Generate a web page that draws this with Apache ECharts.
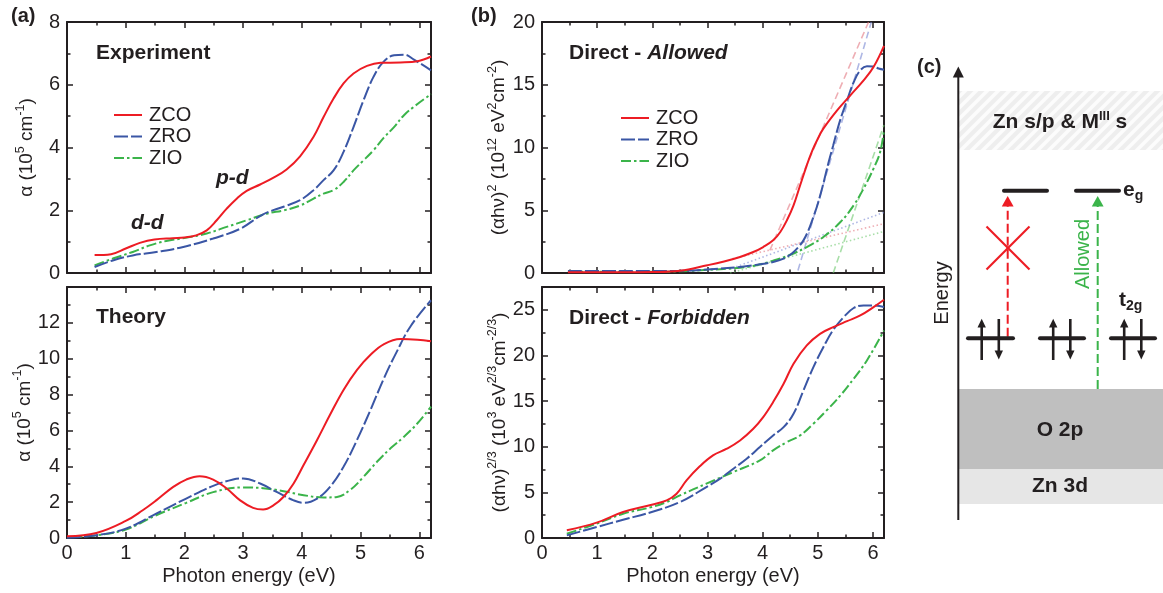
<!DOCTYPE html>
<html>
<head>
<meta charset="utf-8">
<script src="https://cdn.jsdelivr.net/npm/echarts@6/dist/echarts.min.js"></script>
<style>html,body{margin:0;padding:0;background:#fff}#c{width:1163px;height:593px}</style>
</head>
<body>
<div id="c"></div>
<script>
// ---------------- data ----------------
const seriesNames = ['ZCO', 'ZRO', 'ZIO'];

// (a) Experiment: [photon energy eV, alpha 1e5 cm^-1]
const expZCO = [[0.47,0.57],[0.75,0.6],[1.0,0.78],[1.24,0.96],[1.49,1.07],[1.8,1.11],[2.0,1.13],[2.2,1.2],[2.38,1.36],[2.55,1.68],[2.72,2.05],[2.89,2.37],[3.06,2.62],[3.29,2.82],[3.51,3.03],[3.74,3.3],[3.97,3.72],[4.2,4.34],[4.37,4.97],[4.54,5.56],[4.71,6.04],[4.88,6.36],[5.11,6.6],[5.34,6.7],[5.68,6.71],[5.97,6.75],[6.2,6.9]];
const expZRO = [[0.47,0.19],[0.78,0.4],[1.12,0.56],[1.52,0.67],[1.98,0.83],[2.49,1.1],[2.95,1.41],[3.34,1.87],[3.7,2.12],[3.97,2.32],[4.2,2.64],[4.37,2.96],[4.54,3.27],[4.71,3.86],[4.88,4.65],[5.05,5.5],[5.22,6.25],[5.39,6.73],[5.57,6.94],[5.74,6.96],[5.91,6.8],[6.2,6.46]];
const expZIO = [[0.47,0.24],[0.78,0.46],[1.12,0.67],[1.41,0.88],[1.69,1.02],[2.02,1.12],[2.38,1.26],[2.72,1.47],[3.06,1.68],[3.4,1.89],[3.7,2.0],[3.97,2.15],[4.2,2.37],[4.37,2.53],[4.54,2.64],[4.71,2.9],[4.88,3.27],[5.05,3.59],[5.22,3.91],[5.39,4.3],[5.57,4.65],[5.74,5.03],[5.91,5.3],[6.2,5.7]];

// (a) Theory
const thZCO = [[0,0.1],[0.5,0.28],[1.0,0.95],[1.29,1.55],[1.52,2.1],[1.81,2.85],[2.03,3.26],[2.26,3.45],[2.49,3.26],[2.72,2.76],[2.95,2.1],[3.17,1.68],[3.34,1.59],[3.52,1.83],[3.69,2.3],[3.86,3.04],[4.03,4.07],[4.26,5.47],[4.48,6.87],[4.71,8.26],[4.94,9.38],[5.17,10.22],[5.4,10.82],[5.68,11.1],[5.97,11.06],[6.2,10.97]];
const thZRO = [[0,0.02],[0.5,0.15],[1.0,0.52],[1.52,1.36],[2.03,2.2],[2.49,2.91],[2.83,3.26],[3.0,3.32],[3.29,3.04],[3.57,2.57],[3.86,2.1],[4.03,1.96],[4.26,2.2],[4.48,2.85],[4.71,3.97],[4.94,5.47],[5.17,7.15],[5.4,8.92],[5.62,10.41],[5.85,11.8],[6.2,13.26]];
const thZIO = [[0,0.05],[0.5,0.15],[1.0,0.47],[1.52,1.27],[2.03,1.96],[2.49,2.56],[3.0,2.82],[3.34,2.78],[3.69,2.61],[4.03,2.39],[4.37,2.26],[4.6,2.29],[4.83,2.7],[5.05,3.41],[5.28,4.25],[5.51,5.0],[5.74,5.65],[5.97,6.4],[6.2,7.33]];

// (b) Direct - Allowed: (alpha h nu)^2, 1e12 eV^2 cm^-2
const allowZCO = [[0.47,0.05],[1.0,0.05],[1.5,0.05],[2.0,0.07],[2.5,0.18],[3.0,0.62],[3.3,0.92],[3.59,1.28],[3.83,1.67],[4.01,2.07],[4.19,2.6],[4.32,3.27],[4.44,4.2],[4.56,5.39],[4.68,6.99],[4.8,8.58],[4.9,9.75],[5.0,10.7],[5.1,11.5],[5.35,12.96],[5.59,14.16],[5.83,15.35],[6.01,16.41],[6.2,18.1]];
const allowZRO = [[0.47,0.15],[1.0,0.15],[2.0,0.15],[2.5,0.17],[3.0,0.28],[3.59,0.48],[3.95,0.69],[4.19,0.88],[4.38,1.15],[4.53,1.55],[4.65,2.07],[4.74,2.6],[4.83,3.4],[4.92,4.46],[5.01,5.66],[5.1,7.12],[5.19,8.72],[5.28,10.18],[5.4,12.1],[5.53,13.76],[5.65,15.2],[5.77,16.15],[5.89,16.47],[6.0,16.45],[6.1,16.3],[6.2,16.2]];
const allowZIO = [[0.47,0.1],[1.0,0.1],[2.0,0.1],[2.5,0.13],[3.0,0.25],[3.59,0.42],[3.89,0.62],[4.19,0.98],[4.5,1.45],[4.8,2.07],[5.1,2.87],[5.41,4.06],[5.65,5.39],[5.83,6.73],[6.01,8.32],[6.13,9.64],[6.2,11.4]];
// linear fits drawn on the Allowed panel
const tangentZCO = [[4.13,1.8],[5.92,20]];
const tangentZRO = [[4.64,0.2],[5.97,20]];
const tangentZIO = [[5.28,0],[6.2,11.8]];
const baseZCO = [[3.45,1.14],[6.2,3.93]];
const baseZRO = [[3.45,0.38],[6.2,4.83]];
const baseZIO = [[3.41,0],[6.2,3.31]];

// (b) Direct - Forbidden: (alpha h nu)^(2/3), 1e3 eV^(2/3) cm^(-2/3)
const forbZCO = [[0.45,0.84],[0.99,1.68],[1.47,2.85],[1.99,3.65],[2.26,4.12],[2.44,4.85],[2.62,6.31],[2.86,7.85],[3.1,9.05],[3.35,9.78],[3.59,10.69],[3.83,11.97],[4.01,13.25],[4.19,14.89],[4.38,16.9],[4.56,19.09],[4.8,21.1],[5.04,22.37],[5.28,23.1],[5.53,23.76],[5.77,24.38],[6.01,25.29],[6.2,26.1]];
const forbZRO = [[0.45,0.29],[0.99,1.2],[1.47,2.0],[1.99,2.85],[2.5,3.94],[2.98,5.58],[3.23,6.5],[3.47,7.59],[3.71,8.69],[3.95,9.96],[4.19,11.24],[4.38,12.15],[4.56,13.61],[4.74,16.17],[4.92,18.72],[5.1,20.9],[5.28,22.8],[5.47,24.2],[5.65,25.2],[5.83,25.47],[6.01,25.47],[6.2,25.3]];
const forbZIO = [[0.45,0.47],[0.99,1.57],[1.47,2.66],[1.99,3.39],[2.26,3.94],[2.5,4.67],[2.98,5.95],[3.47,7.23],[3.95,8.5],[4.19,9.6],[4.44,10.51],[4.68,11.24],[4.92,12.52],[5.16,13.98],[5.41,15.62],[5.65,17.45],[5.89,19.45],[6.2,22.74]];

// ---------------- styling / layout ----------------
const FONT = '"Liberation Sans", Arial, Helvetica, sans-serif';
const INK = '#231f20';
const RED = '#ed1c24', BLUE = '#3a56a5', GREEN = '#3bb44a';
const RED_L = 'rgba(226,120,130,0.6)', BLUE_L = 'rgba(120,135,210,0.6)', GREEN_L = 'rgba(110,200,110,0.6)';
const DASH = { ZCO: 'solid', ZRO: [14, 3], ZIO: [10, 3, 2.5, 3] };
const COL = { ZCO: RED, ZRO: BLUE, ZIO: GREEN };

const grids = [
  { left: 67, top: 22, width: 364, height: 251 },
  { left: 67, top: 287, width: 364, height: 251 },
  { left: 542, top: 22, width: 342, height: 251 },
  { left: 542, top: 287, width: 342, height: 251 }
];

const supRich = {
  n: { fontSize: 19, lineHeight: 26, fontFamily: FONT, color: INK },
  s: { fontSize: 12.5, lineHeight: 17, verticalAlign: 'top', fontFamily: FONT, color: INK }
};

const xAxes = [], yAxes = [];
function tickStyle(len) { return { show: true, inside: true, length: len, lineStyle: { color: INK, width: 1.5 } }; }
function addX(gi, showLabels, name) {
  const base = { gridIndex: gi, type: 'value', min: 0, max: 6.2, splitLine: { show: false } };
  xAxes.push(Object.assign({}, base, {
    position: 'bottom', interval: 1,
    axisLine: { onZero: false, lineStyle: { color: INK, width: 2 } },
    axisTick: tickStyle(6),
    axisLabel: { show: showLabels, margin: 5, fontSize: 20, color: INK, fontFamily: FONT,
      formatter: v => Number.isInteger(v) ? String(v) : '' },
    name: name || '', nameLocation: 'middle', nameGap: 28,
    nameTextStyle: { fontSize: 20, color: INK, fontFamily: FONT }
  }));
  xAxes.push(Object.assign({}, base, { position: 'bottom', interval: 0.5,
    axisLine: { show: false, onZero: false }, axisTick: tickStyle(3.5), axisLabel: { show: false } }));
  xAxes.push(Object.assign({}, base, { position: 'top', interval: 1,
    axisLine: { onZero: false, lineStyle: { color: INK, width: 2 } }, axisTick: tickStyle(6), axisLabel: { show: false } }));
  xAxes.push(Object.assign({}, base, { position: 'top', interval: 0.5,
    axisLine: { show: false, onZero: false }, axisTick: tickStyle(3.5), axisLabel: { show: false } }));
}
function addY(gi, max, major, labelStep, hideMax, name, nameGap) {
  const base = { gridIndex: gi, type: 'value', min: 0, max: max, splitLine: { show: false } };
  yAxes.push(Object.assign({}, base, {
    position: 'left', interval: major,
    axisLine: { onZero: false, lineStyle: { color: INK, width: 2 } },
    axisTick: tickStyle(6),
    axisLabel: { margin: 7, fontSize: 20, color: INK, fontFamily: FONT,
      formatter: v => (Math.abs(v / labelStep - Math.round(v / labelStep)) < 1e-9 && !(hideMax && v === max)) ? String(v) : '' },
    name: name, nameLocation: 'middle', nameRotate: 90, nameGap: nameGap,
    nameTextStyle: { fontSize: 19, color: INK, fontFamily: FONT, rich: supRich }
  }));
  yAxes.push(Object.assign({}, base, { position: 'left', interval: major / 2,
    axisLine: { show: false, onZero: false }, axisTick: tickStyle(3.5), axisLabel: { show: false } }));
  yAxes.push(Object.assign({}, base, { position: 'right', interval: major,
    axisLine: { onZero: false, lineStyle: { color: INK, width: 2 } }, axisTick: tickStyle(6), axisLabel: { show: false } }));
  yAxes.push(Object.assign({}, base, { position: 'right', interval: major / 2,
    axisLine: { show: false, onZero: false }, axisTick: tickStyle(3.5), axisLabel: { show: false } }));
}

addX(0, false); addX(1, true, 'Photon energy (eV)'); addX(2, false); addX(3, true, 'Photon energy (eV)');
addY(0, 8, 2, 2, false, '{n|α (10}{s|5}{n| cm}{s|-1}{n|)}', 27);
addY(1, 14, 2, 2, true, '{n|α (10}{s|5}{n| cm}{s|-1}{n|)}', 27);
addY(2, 20, 5, 5, false, '{n|(αhν)}{s|2}{n| (10}{s|12}{n| eV}{s|2}{n|cm}{s|-2}{n|)}', 30);
addY(3, 27.5, 5, 5, true, '{n|(αhν)}{s|2/3}{n| (10}{s|3}{n| eV}{s|2/3}{n|cm}{s|-2/3}{n|)}', 29);

const series = [];
function curve(name, data, gi) {
  series.push({ type: 'line', name: name, data: data, xAxisIndex: 4 * gi, yAxisIndex: 4 * gi,
    symbol: 'none', showSymbol: false, smooth: 0.4, z: 3, silent: true,
    lineStyle: { color: COL[name], width: 2, type: DASH[name] }, itemStyle: { color: COL[name] } });
}
function fit(data, gi, color, type) {
  series.push({ type: 'line', name: 'fit', data: data, xAxisIndex: 4 * gi, yAxisIndex: 4 * gi,
    symbol: 'none', showSymbol: false, z: 1, silent: true,
    lineStyle: { color: color, width: 1.6, type: type } });
}
fit(tangentZCO, 2, RED_L, [7, 4]); fit(tangentZRO, 2, BLUE_L, [7, 4]); fit(tangentZIO, 2, GREEN_L, [7, 4]);
fit(baseZCO, 2, RED_L, [1.5, 2.5]); fit(baseZRO, 2, BLUE_L, [1.5, 2.5]); fit(baseZIO, 2, GREEN_L, [1.5, 2.5]);
curve('ZIO', expZIO, 0); curve('ZRO', expZRO, 0); curve('ZCO', expZCO, 0);
curve('ZIO', thZIO, 1); curve('ZRO', thZRO, 1); curve('ZCO', thZCO, 1);
curve('ZIO', allowZIO, 2); curve('ZRO', allowZRO, 2); curve('ZCO', allowZCO, 2);
curve('ZIO', forbZIO, 3); curve('ZRO', forbZRO, 3); curve('ZCO', forbZCO, 3);

const legendBase = { orient: 'vertical', itemWidth: 28, itemHeight: 14, itemGap: 1.5, data: seriesNames,
  selectedMode: false, itemStyle: { opacity: 0 },
  textStyle: { fontSize: 20, color: INK, fontFamily: FONT, padding: [0, 0, 0, 2] } };

// ---------------- annotations and schematic (c) ----------------
const B = 'bold 21px ' + FONT, BI = 'italic bold 21px ' + FONT, R = '20px ' + FONT;
function txt(x, y, text, font, extra) {
  return { type: 'text', x: x, y: y, silent: true, z: 10,
    style: Object.assign({ text: text, font: font, fill: INK, align: 'left', verticalAlign: 'middle' }, extra || {}) };
}
function seg(x1, y1, x2, y2, color, width, dash, cap) {
  return { type: 'line', silent: true, z: 5, shape: { x1: x1, y1: y1, x2: x2, y2: y2 },
    style: { stroke: color, lineWidth: width, lineDash: dash || null, lineCap: cap || 'butt' } };
}
function tri(pts, color) {
  return { type: 'polygon', silent: true, z: 6, shape: { points: pts }, style: { fill: color } };
}

const pc = document.createElement('canvas'); pc.width = 11; pc.height = 11;
const g2 = pc.getContext('2d');
g2.fillStyle = '#eeeeee'; g2.fillRect(0, 0, 11, 11);
g2.strokeStyle = '#fcfcfc'; g2.lineWidth = 3.5;
[[-6, 6, 6, -6], [0, 11, 11, 0], [5, 17, 17, 5]].forEach(l => { g2.beginPath(); g2.moveTo(l[0], l[1]); g2.lineTo(l[2], l[3]); g2.stroke(); });

const graphics = [
  txt(11, 16.5, '(a)', 'bold 20px ' + FONT),
  txt(471, 16.5, '(b)', 'bold 20px ' + FONT),
  txt(917, 67, '(c)', 'bold 20px ' + FONT),
  txt(96, 53, 'Experiment', B),
  txt(131, 223, 'd-d', BI),
  txt(216, 178, 'p-d', BI),
  txt(96, 317, 'Theory', B),
  { type: 'text', x: 569, y: 53, silent: true, z: 10, style: { text: '{n|Direct - }{i|Allowed}', verticalAlign: 'middle',
      rich: { n: { font: B, fill: INK }, i: { font: BI, fill: INK } } } },
  { type: 'text', x: 569, y: 318, silent: true, z: 10, style: { text: '{n|Direct - }{i|Forbidden}', verticalAlign: 'middle',
      rich: { n: { font: B, fill: INK }, i: { font: BI, fill: INK } } } },

  // panel (c) bands
  { type: 'rect', silent: true, z: 2, shape: { x: 958, y: 91, width: 205, height: 59 }, style: { fill: { type: 'pattern', image: pc, repeat: 'repeat' } } },
  { type: 'rect', silent: true, z: 2, shape: { x: 958, y: 389, width: 205, height: 80 }, style: { fill: '#bfbfbf' } },
  { type: 'rect', silent: true, z: 2, shape: { x: 958, y: 469, width: 205, height: 35 }, style: { fill: '#e6e6e6' } },
  { type: 'text', x: 1060, y: 122.5, silent: true, z: 10, style: { text: '{b|Zn s/p & M}{s|III}{b| s}', align: 'center', verticalAlign: 'middle',
      rich: { b: { font: B, fill: INK, lineHeight: 26 }, s: { font: 'bold 13px ' + FONT, fill: INK, lineHeight: 17, verticalAlign: 'top' } } } },
  txt(1060, 430.5, 'O 2p', B, { align: 'center' }),
  txt(1060, 486.5, 'Zn 3d', B, { align: 'center' }),

  // energy axis
  seg(958.3, 520, 958.3, 76, INK, 2),
  tri([[952.8, 77.5], [963.8, 77.5], [958.3, 66.5]], INK),
  { type: 'text', x: 942.5, y: 293, rotation: Math.PI / 2, silent: true, z: 10,
    style: { text: 'Energy', font: R, fill: INK, align: 'center', verticalAlign: 'middle' } },

  // e_g levels
  seg(1004, 190.7, 1047, 190.7, INK, 4, null, 'round'),
  seg(1076, 190.7, 1119, 190.7, INK, 4, null, 'round'),
  { type: 'text', x: 1123, y: 190, silent: true, z: 10, style: { text: '{b|e}{s|g}', verticalAlign: 'middle',
      rich: { b: { font: B, fill: INK, lineHeight: 26 }, s: { font: 'bold 14px ' + FONT, fill: INK, lineHeight: 17, verticalAlign: 'bottom' } } } },
  { type: 'text', x: 1119, y: 300.5, silent: true, z: 10, style: { text: '{b|t}{s|2g}', verticalAlign: 'middle',
      rich: { b: { font: B, fill: INK, lineHeight: 26 }, s: { font: 'bold 14px ' + FONT, fill: INK, lineHeight: 17, verticalAlign: 'bottom' } } } },

  // transitions
  seg(1007.7, 336.7, 1007.7, 206, RED, 2, [9, 4]),
  tri([[1001.8, 206.5], [1013.6, 206.5], [1007.7, 196]], RED),
  seg(986.5, 226.5, 1029.5, 269.5, RED, 2.2),
  seg(986.5, 269.5, 1029.5, 226.5, RED, 2.2),
  seg(1097.7, 389, 1097.7, 206, GREEN, 2, [9, 4]),
  tri([[1091.8, 206.5], [1103.6, 206.5], [1097.7, 196]], GREEN),
  { type: 'text', x: 1083, y: 254, rotation: Math.PI / 2, silent: true, z: 10,
    style: { text: 'Allowed', font: R, fill: GREEN, align: 'center', verticalAlign: 'middle' } }
];

// t2g levels with paired spins
[[968, 1013], [1040, 1084], [1111, 1155]].forEach(lv => {
  const c = (lv[0] + lv[1]) / 2;
  graphics.push(seg(lv[0], 338.3, lv[1], 338.3, INK, 4, null, 'round'));
  const up = c - 8.8, dn = c + 8.3;
  graphics.push(seg(up, 360, up, 326, INK, 2.6));
  graphics.push(tri([[up - 4.2, 327.5], [up + 4.2, 327.5], [up, 318.8]], INK));
  graphics.push(seg(dn, 319, dn, 352, INK, 2.6));
  graphics.push(tri([[dn - 4.2, 350.5], [dn + 4.2, 350.5], [dn, 359.5]], INK));
});

const chart = echarts.init(document.getElementById('c'), null, { renderer: 'canvas' });
chart.setOption({
  animation: false,
  backgroundColor: '#ffffff',
  textStyle: { fontFamily: FONT },
  grid: grids,
  xAxis: xAxes,
  yAxis: yAxes,
  legend: [
    Object.assign({ left: 108, top: 100 }, legendBase),
    Object.assign({ left: 615, top: 103 }, legendBase)
  ],
  series: series,
  graphic: graphics
});
</script>
</body>
</html>
